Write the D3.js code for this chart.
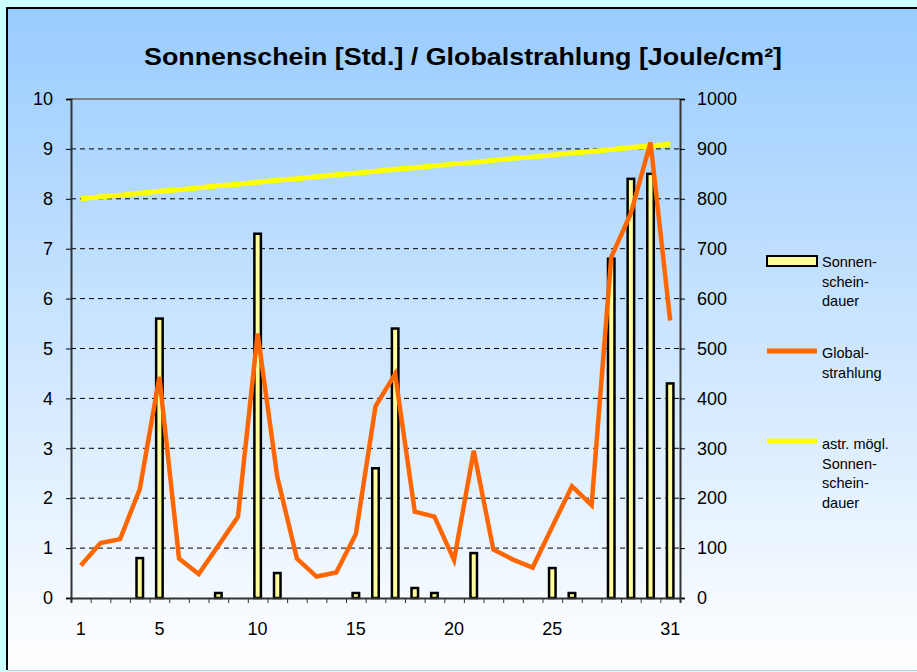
<!DOCTYPE html>
<html><head><meta charset="utf-8">
<script src="https://cdn.jsdelivr.net/npm/d3@7/dist/d3.min.js"></script>
<style>html,body{margin:0;padding:0;background:#CCFFFF;overflow:hidden}svg{display:block}text{font-family:"Liberation Sans",Arial,sans-serif}</style>
</head><body>
<svg id="c" width="917" height="672"></svg>
<script>
const days = d3.range(1, 32);
const sunshine = [0,0,0,0.8,5.6,0,0,0.1,0,7.3,0.5,0,0,0,0.1,2.6,5.4,0.2,0.1,0,0.9,0,0,0,0.6,0.1,0,6.8,8.4,8.5,4.3];
const globalRad = [65,110,118,218,443,79,48,105,163,530,243,79,43,51,128,384,449,173,163,76,295,97,77,61,143,224,186,683,771,913,556];
const possible = [8.00,8.04,8.07,8.11,8.15,8.18,8.22,8.26,8.29,8.33,8.37,8.40,8.44,8.48,8.51,8.55,8.59,8.62,8.66,8.70,8.73,8.77,8.81,8.84,8.88,8.92,8.95,8.99,9.03,9.06,9.10];
const leftTicks = d3.range(0, 11);
const rightTicks = d3.range(0, 1001, 100);
const xLabels = [1,5,10,15,20,25,31];
const title = "Sonnenschein [Std.] / Globalstrahlung [Joule/cm²]";

const svg = d3.select("#c");
const defs = svg.append("defs");
const g = defs.append("linearGradient").attr("id","bg").attr("x1",0).attr("y1",0).attr("x2",0).attr("y2",1);
g.append("stop").attr("offset","0%").attr("stop-color","#99CCFF");
g.append("stop").attr("offset","100%").attr("stop-color","#FFFFFF");

svg.append("rect").attr("x",7).attr("y",8).attr("width",930).attr("height",662).attr("fill","url(#bg)");
svg.append("line").attr("x1",7).attr("x2",7).attr("y1",7).attr("y2",670).attr("stroke","#000").attr("stroke-width",2);
svg.append("line").attr("x1",6).attr("x2",917).attr("y1",8).attr("y2",8).attr("stroke","#000").attr("stroke-width",2);
svg.append("line").attr("x1",8).attr("x2",917).attr("y1",670.5).attr("y2",670.5).attr("stroke","#C8C8C8").attr("stroke-width",1);

const L = 71, R = 680, T = 99, B = 598;
const x = d3.scaleBand().domain(days).range([L, R]).paddingInner(0).paddingOuter(0);
const xb = d3.scaleLinear().domain([0, 31]).range([L, R]);
const yL = d3.scaleLinear().domain([0, 10]).range([B, T]);
const yR = d3.scaleLinear().domain([0, 1000]).range([B, T]);

svg.append("text").attr("x",463).attr("y",65).attr("text-anchor","middle")
  .attr("font-size",24).attr("font-weight","bold").attr("fill","#000")
  .attr("textLength",638).attr("lengthAdjust","spacingAndGlyphs").text(title);

// grid
svg.append("g").selectAll("line").data(leftTicks.filter(d => d > 0 && d < 10)).join("line")
  .attr("x1",L).attr("x2",R).attr("y1",d => yL(d)).attr("y2",d => yL(d))
  .attr("stroke","#000").attr("stroke-width",1).attr("stroke-dasharray","5,4");
// top border
svg.append("line").attr("x1",L).attr("x2",R).attr("y1",T).attr("y2",T).attr("stroke","#808080").attr("stroke-width",2);

// left axis
const la = svg.append("g").attr("transform",`translate(${L},0)`)
  .call(d3.axisLeft(yL).tickValues(leftTicks).tickSize(5).tickPadding(13).tickFormat(d3.format("d")));
la.select(".domain").attr("stroke","#333").attr("stroke-width",2);
la.selectAll(".tick line").attr("stroke","#000");
la.selectAll("text").attr("font-size",18).attr("fill","#000").attr("font-family","Liberation Sans, Arial, sans-serif");

const ra = svg.append("g").attr("transform",`translate(${R},0)`)
  .call(d3.axisRight(yR).tickValues(rightTicks).tickSize(5).tickPadding(12).tickFormat(d3.format("d")));
ra.select(".domain").attr("stroke","#333").attr("stroke-width",2);
ra.selectAll(".tick line").attr("stroke","#000");
ra.selectAll("text").attr("font-size",18).attr("fill","#000").attr("font-family","Liberation Sans, Arial, sans-serif");

// bars
const bw = 6.5;
svg.append("g").selectAll("rect").data(days.map((d,i)=>({d, v:sunshine[i]})).filter(o=>o.v>0)).join("rect")
  .attr("x", o => x(o.d) + x.bandwidth()/2 - bw/2)
  .attr("width", bw)
  .attr("y", o => yL(o.v))
  .attr("height", o => yL(0) - yL(o.v))
  .attr("fill","#FFFF99").attr("stroke","#000").attr("stroke-width",2.5);

// bottom axis
const ba = svg.append("g").attr("transform",`translate(0,${B})`)
  .call(d3.axisBottom(xb).tickValues(d3.range(0,32)).tickSize(5).tickFormat(""));
ba.select(".domain").attr("stroke","#333").attr("stroke-width",2);
ba.selectAll(".tick line").attr("stroke","#333");
svg.append("g").selectAll("text").data(xLabels).join("text")
  .attr("x", d => x(d) + x.bandwidth()/2).attr("y", 635).attr("text-anchor","middle")
  .attr("font-size",18).attr("fill","#000").text(d => d);

const cx = (d) => x(d) + x.bandwidth()/2;
svg.append("path").datum(possible)
  .attr("d", d3.line().x((v,i)=>cx(days[i])).y(v=>yL(v)))
  .attr("fill","none").attr("stroke","#FFFF00").attr("stroke-width",5);
svg.append("path").datum(globalRad)
  .attr("d", d3.line().x((v,i)=>cx(days[i])).y(v=>yR(v)))
  .attr("fill","none").attr("stroke","#FF6600").attr("stroke-width",4.5).attr("stroke-linejoin","miter");

// legend
const lg = svg.append("g");
lg.append("rect").attr("x",767).attr("y",256).attr("width",50).attr("height",10)
  .attr("fill","#FFFF99").attr("stroke","#000").attr("stroke-width",2);
lg.append("line").attr("x1",767).attr("x2",817).attr("y1",351).attr("y2",351).attr("stroke","#FF6600").attr("stroke-width",5);
lg.append("line").attr("x1",767).attr("x2",817).attr("y1",441).attr("y2",441).attr("stroke","#FFFF00").attr("stroke-width",5);
const legendTexts = [
  {y:267, lines:["Sonnen-","schein-","dauer"]},
  {y:358, lines:["Global-","strahlung"]},
  {y:449, lines:["astr. mögl.","Sonnen-","schein-","dauer"]}
];
legendTexts.forEach(t => {
  t.lines.forEach((s,i) => {
    lg.append("text").attr("x",822).attr("y",t.y + i*19.5).attr("font-size",14.5).attr("fill","#000").text(s);
  });
});
</script>
</body></html>
